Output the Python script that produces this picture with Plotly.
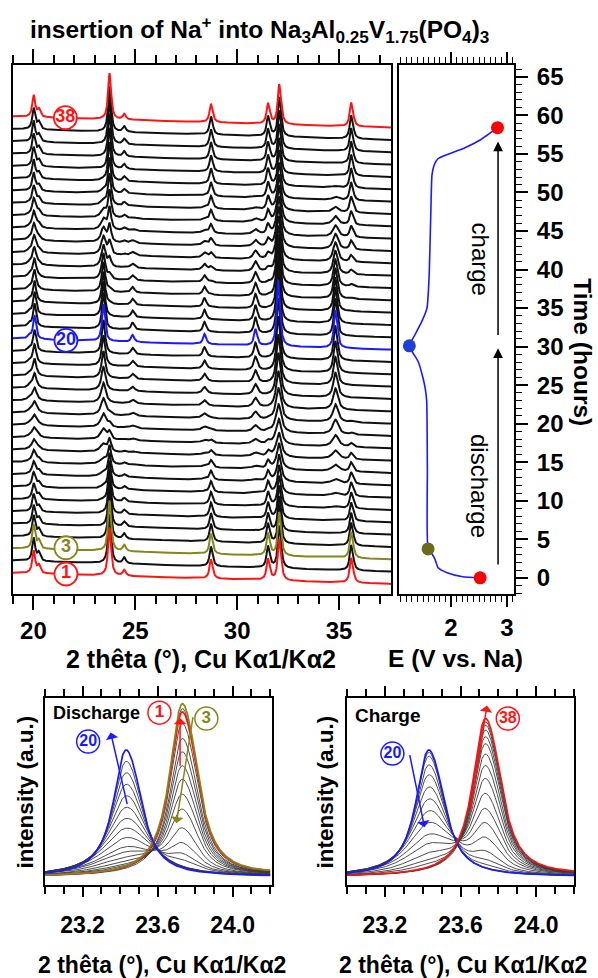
import numpy as np
import plotly.graph_objects as go

W, H = 598, 978
FONT = "Liberation Sans, Arial, sans-serif"

# ---------------- data ----------------
scan_no = list(range(1, 39))
# vertical stacking offset of each scan (same units as time axis)
scan_offset = [0.65, 2.25, 3.85, 5.45, 7.05, 8.65, 10.25, 11.85, 13.45, 15.05,
               16.65, 18.25, 19.85, 21.45, 23.05, 24.65, 26.25, 27.85, 29.45, 31.05,
               32.65, 34.25, 35.85, 37.45, 39.05, 40.65, 42.25, 43.85, 45.45, 47.05,
               48.65, 50.25, 51.85, 53.45, 55.05, 56.65, 58.25, 59.85]
# scale of pristine phase (A) and discharged phase (B) patterns in each scan
amp_A = [1.00, 1.02, 1.05, 0.93, 0.84, 0.75, 0.66, 0.57, 0.47, 0.37,
         0.25, 0.15, 0.08, 0.04, 0.0, 0.0, 0.0, 0.0, 0.0, 0.0,
         0.0, 0.0, 0.02, 0.05, 0.10, 0.18, 0.27, 0.36, 0.46, 0.56,
         0.65, 0.73, 0.80, 0.85, 0.89, 0.92, 0.94, 0.96]
amp_B = [0.0, 0.0, 0.0, 0.0, 0.0, 0.03, 0.05, 0.08, 0.12, 0.17,
         0.22, 0.30, 0.38, 0.46, 0.55, 0.64, 0.73, 0.82, 0.91, 1.00,
         0.98, 0.95, 0.88, 0.80, 0.70, 0.60, 0.50, 0.40, 0.30, 0.22,
         0.14, 0.08, 0.04, 0.0, 0.0, 0.0, 0.0, 0.0]
width_B = [1.0, 1.0, 1.0, 1.0, 1.0, 3.0, 3.0, 2.9, 2.8, 2.6,
           2.4, 2.2, 2.0, 1.8, 1.6, 1.45, 1.3, 1.2, 1.1, 1.0,
           1.0, 1.05, 1.1, 1.2, 1.3, 1.45, 1.6, 1.75, 1.9, 2.0,
           2.1, 2.2, 2.3, 2.3, 2.3, 2.3, 2.3, 2.3]

peaks_A_pos = [20.00, 20.25, 23.72, 24.44, 28.70, 31.50, 32.05, 35.58]
peaks_A_h = [2.85, 1.00, 6.10, 0.75, 2.45, 2.70, 5.30, 3.20]
peaks_B_pos = [19.78, 20.04, 23.42, 24.85, 28.38, 30.88, 32.00, 34.80]
peaks_B_h = [0.45, 3.00, 4.70, 0.90, 1.30, 2.10, 8.50, 4.90]
peak_hwhm = 0.075
bg_slope = -0.078

# voltage profile (E vs time)
volt_E = [2.52, 2.21, 1.93, 1.77, 1.71, 1.66, 1.59, 1.577, 1.565, 1.54, 1.50, 1.41, 1.30, 1.255,
          1.36, 1.48, 1.57, 1.61, 1.64, 1.66, 1.70, 1.77, 1.92, 2.22, 2.52, 2.83]
volt_t = [0.0, 0.13, 0.65, 1.3, 2.46, 3.1, 3.75, 14.2, 22.9, 24.5, 25.9, 28.1, 29.4, 30.1,
          31.6, 33.3, 35.0, 39.4, 47.9, 52.3, 53.6, 54.4, 54.9, 55.7, 56.8, 58.4]
dot_E = [2.52, 1.59, 1.255, 2.83]
dot_t = [0.0, 3.75, 30.1, 58.4]
dot_col = ["#ff0000", "#6b6b1e", "#1f3ed6", "#ff0000"]

x_ticks_main = [20, 25, 30, 35]
x_ticks_zoom = [23.2, 23.6, 24.0]
t_ticks = [0, 5, 10, 15, 20, 25, 30, 35, 40, 45, 50, 55, 60, 65]

RED, OLIVE, BLUE = "#ff1414", "#86861a", "#1a1aff"
special = {1: RED, 3: OLIVE, 20: BLUE, 38: RED}


# ---------------- helpers ----------------
def lor(x, c, w):
    return 1.0 / (1.0 + ((x - c) / w) ** 2)


def ka2(c):
    return np.degrees(2 * np.tan(np.radians(c / 2)) * 0.00248)


def peak(x, c, h, w):
    d = ka2(c)
    norm = 1 + 0.5 * lor(c + d, c, w)
    return h * (lor(x, c, w) + 0.5 * lor(x, c + d, w)) / norm


def pattern(x, i):
    y = np.zeros_like(x)
    for c, h in zip(peaks_A_pos, peaks_A_h):
        y += amp_A[i] * peak(x, c, h, peak_hwhm)
    for c, h in zip(peaks_B_pos, peaks_B_h):
        y += amp_B[i] * peak(x, c, h, peak_hwhm * width_B[i])
    return y


fig = go.Figure()

# ---------------- main stacked patterns ----------------
xm = np.linspace(19.0, 37.6, 2400)
order = [i for i in range(38) if scan_no[i] not in special] + [i for i in range(38) if scan_no[i] in special]
for i in order:
    n = scan_no[i]
    y = scan_offset[i] + bg_slope * (xm - 19.0) + pattern(xm, i)
    fig.add_trace(go.Scatter(x=xm, y=y, mode="lines", xaxis="x", yaxis="y",
                             line=dict(color=special.get(n, "#111111"), width=2),
                             showlegend=False, hoverinfo="skip"))

# circled labels in main panel
lab_n = [38, 20, 3, 1]
lab_x = [21.57, 21.6, 21.6, 21.6]
lab_y = [59.7, 30.8, 3.9, 0.5]
fig.add_trace(go.Scatter(x=lab_x, y=lab_y, mode="markers+text", xaxis="x", yaxis="y",
                         text=[str(v) for v in lab_n], textposition="middle center",
                         textfont=dict(family=FONT, size=18, weight="bold",
                                       color=[special[v] for v in lab_n]),
                         marker=dict(symbol="circle", size=23, color="white",
                                     line=dict(width=1.8, color=[special[v] for v in lab_n])),
                         showlegend=False, hoverinfo="skip"))

# ---------------- voltage panel ----------------
fig.add_trace(go.Scatter(x=volt_E, y=volt_t, mode="lines", xaxis="x2", yaxis="y2",
                         line=dict(color="#1a1aff", width=1.6, shape="spline", smoothing=0.5),
                         showlegend=False, hoverinfo="skip"))
fig.add_trace(go.Scatter(x=dot_E, y=dot_t, mode="markers", xaxis="x2", yaxis="y2",
                         marker=dict(size=13, color=dot_col),
                         showlegend=False, hoverinfo="skip"))

# ---------------- zoom panels ----------------
xz = np.linspace(23.0, 24.2, 700)
dis = list(range(0, 20))
cha = list(range(19, 38))
for axx, axy, idxs in (("x3", "y3", dis), ("x4", "y4", cha)):
    normal = [i for i in idxs if scan_no[i] not in special]
    colored = [i for i in idxs if scan_no[i] in special]
    for i in normal + colored:
        n = scan_no[i]
        fig.add_trace(go.Scatter(x=xz, y=pattern(xz, i), mode="lines", xaxis=axx, yaxis=axy,
                                 line=dict(color=special.get(n, "#3a3a3a"),
                                           width=1.7 if n in special else 0.9),
                                 showlegend=False, hoverinfo="skip"))

# circled labels in zoom panels
zl = [("x3", "y3", 23.61, 6.2, 1), ("x3", "y3", 23.86, 5.98, 3), ("x3", "y3", 23.23, 5.11, 20),
      ("x4", "y4", 23.24, 4.66, 20), ("x4", "y4", 23.85, 5.98, 38)]
for axx, axy, lx, ly, n in zl:
    fig.add_trace(go.Scatter(x=[lx], y=[ly], mode="markers+text", xaxis=axx, yaxis=axy,
                             text=[str(n)], textposition="middle center",
                             textfont=dict(family=FONT, size=16 if n > 9 else 17, weight="bold", color=special[n]),
                             marker=dict(symbol="circle", size=23, color="white",
                                         line=dict(width=1.5, color=special[n])),
                             showlegend=False, hoverinfo="skip"))

# ---------------- layout ----------------
def px_x(p):
    return p / W


def px_y(p):
    return 1 - p / H


ydom_top = [px_y(593), px_y(63)]
ydom_bot = [px_y(885), px_y(697)]
tickfont = dict(family=FONT, size=24, color="black", weight="bold")
tickfont_z = dict(family=FONT, size=23, color="black", weight="bold")

common = dict(showline=True, linecolor="black", linewidth=2, showgrid=False, zeroline=False)

fig.update_layout(
    width=W, height=H, autosize=False,
    margin=dict(l=0, r=0, t=0, b=0),
    paper_bgcolor="white", plot_bgcolor="white",
    showlegend=False,
    xaxis=dict(domain=[px_x(13), px_x(391)], anchor="y", range=[19.0, 37.55],
               tickvals=x_ticks_main, ticks="outside", ticklen=14, tickwidth=1.8, tickcolor="black",
               mirror="ticks", tickfont=tickfont,
               minor=dict(dtick=1, tick0=0, ticks="outside", ticklen=8, tickwidth=1.5, tickcolor="black"),
               **common),
    yaxis=dict(domain=ydom_top, anchor="x", range=[-2.07, 66.55], showticklabels=False,
               ticks="", mirror=True, **common),
    xaxis2=dict(domain=[px_x(399), px_x(514)], anchor="y2", range=[1.07, 3.125],
                tickvals=[2, 3], ticks="outside", ticklen=11, tickwidth=1.8, tickcolor="black",
                mirror="ticks", tickfont=tickfont,
                minor=dict(dtick=0.1, tick0=0, ticks="outside", ticklen=6, tickwidth=1.3, tickcolor="black"),
                **common),
    yaxis2=dict(domain=ydom_top, anchor="x2", range=[-2.07, 66.55], side="right",
                tickvals=t_ticks, ticks="outside", ticklen=12, tickwidth=1.8, tickcolor="black",
                mirror=True, tickfont=tickfont, ticklabelstandoff=4,
                minor=dict(dtick=1, tick0=0, ticks="outside", ticklen=6, tickwidth=1.3, tickcolor="black"),
                **common),
    xaxis3=dict(domain=[px_x(45), px_x(272)], anchor="y3", range=[23.0, 24.21],
                tickvals=x_ticks_zoom, ticktext=["23.2", "23.6", "24.0"],
                ticks="outside", ticklen=10, tickwidth=1.8, tickcolor="black",
                mirror="ticks", tickfont=tickfont_z, ticklabelstandoff=8,
                minor=dict(dtick=0.1, tick0=23.0, ticks="outside", ticklen=7, tickwidth=1.5, tickcolor="black"),
                **common),
    yaxis3=dict(domain=ydom_bot, anchor="x3", range=[-0.30, 6.77], showticklabels=False,
                ticks="", mirror=True, **common),
    xaxis4=dict(domain=[px_x(347), px_x(574)], anchor="y4", range=[23.0, 24.2],
                tickvals=x_ticks_zoom, ticktext=["23.2", "23.6", "24.0"],
                ticks="outside", ticklen=10, tickwidth=1.8, tickcolor="black",
                mirror="ticks", tickfont=tickfont_z, ticklabelstandoff=8,
                minor=dict(dtick=0.1, tick0=23.0, ticks="outside", ticklen=7, tickwidth=1.5, tickcolor="black"),
                **common),
    yaxis4=dict(domain=ydom_bot, anchor="x4", range=[-0.30, 6.77], showticklabels=False,
                ticks="", mirror=True, **common),
)

ann = []


def ptext(txt, x, y, size, angle=0, xanchor="center", bold=True):
    ann.append(dict(text=txt, xref="paper", yref="paper", x=px_x(x), y=px_y(y),
                    xanchor=xanchor, yanchor="middle", showarrow=False, textangle=angle,
                    font=dict(family=FONT, size=size, color="black", weight="bold" if bold else "normal")))


ptext("insertion of Na<sup>+</sup> into Na<sub>3</sub>Al<sub>0.25</sub>V<sub>1.75</sub>(PO<sub>4</sub>)<sub>3</sub>",
      28, 28, 24.5, xanchor="left")
ptext("2 thêta (°), Cu Kα1/Kα2", 201, 658, 25)
ptext("E (V vs. Na)", 455, 658, 24.5)
ptext("Time (hours)", 583, 351, 24.5, angle=90)
ptext("2 thêta (°), Cu Kα1/Kα2", 162, 965, 23)
ptext("2 thêta (°), Cu Kα1/Kα2", 463, 965, 23)
ptext("intensity (a.u.)", 25, 792, 22.5, angle=-90)
ptext("intensity (a.u.)", 325, 792, 22.5, angle=-90)

# right panel texts and arrows
ann.append(dict(text="charge", xref="x2", yref="y2", x=2.52, y=41.4, showarrow=False, textangle=90,
                font=dict(family=FONT, size=24, color="black")))
ann.append(dict(text="discharge", xref="x2", yref="y2", x=2.52, y=11.9, showarrow=False, textangle=90,
                font=dict(family=FONT, size=24, color="black")))
for tail, head in ((31.3, 56.6), (1.55, 29.8)):
    ann.append(dict(text="", xref="x2", yref="y2", x=2.84, y=head, axref="x2", ayref="y2", ax=2.84, ay=tail,
                    showarrow=True, arrowhead=2, arrowsize=1.3, arrowwidth=1.5, arrowcolor="black"))

# zoom panel texts
ann.append(dict(text="Discharge", xref="x3", yref="y3", x=23.03, y=6.2, xanchor="left", showarrow=False,
                font=dict(family=FONT, size=18, color="black", weight="bold")))
ann.append(dict(text="Charge", xref="x4", yref="y4", x=23.03, y=6.09, xanchor="left", showarrow=False,
                font=dict(family=FONT, size=19, color="black", weight="bold")))
zarrows = [("x3", "y3", 23.44, 2.7, 23.35, 5.45, BLUE),
           ("x3", "y3", 23.72, 4.14, 23.72, 6.0, RED),
           ("x3", "y3", 23.79, 6.09, 23.70, 2.03, OLIVE),
           ("x4", "y4", 23.33, 4.66, 23.41, 1.88, BLUE),
           ("x4", "y4", 23.65, 2.4, 23.74, 6.47, RED)]
for axx, axy, tx, ty, hx, hy, col in zarrows:
    ann.append(dict(text="", xref=axx, yref=axy, x=hx, y=hy, axref=axx, ayref=axy, ax=tx, ay=ty,
                    showarrow=True, arrowhead=1, arrowsize=1.4, arrowwidth=1.5, arrowcolor=col))

fig.update_layout(annotations=ann)
fig.write_html("out.html")
